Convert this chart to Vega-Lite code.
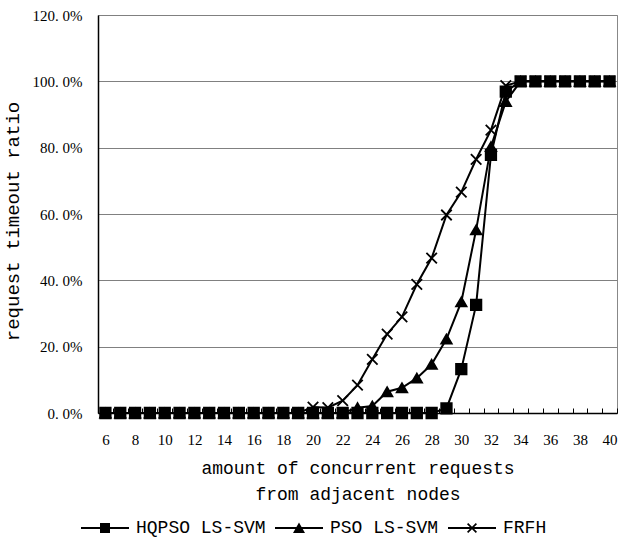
{
  "$schema": "https://vega.github.io/schema/vega-lite/v6.json",
  "autosize": "none",
  "width": 519,
  "height": 398,
  "padding": {"left": 98, "top": 15, "right": 1, "bottom": 126},
  "background": "white",
  "config": {"view": {"stroke": "#888888", "strokeWidth": 1}},
  "data": {"values": [
    {"x":6,"s":"HQPSO LS-SVM","v":0},{"x":7,"s":"HQPSO LS-SVM","v":0},{"x":8,"s":"HQPSO LS-SVM","v":0},{"x":9,"s":"HQPSO LS-SVM","v":0},{"x":10,"s":"HQPSO LS-SVM","v":0},{"x":11,"s":"HQPSO LS-SVM","v":0},{"x":12,"s":"HQPSO LS-SVM","v":0},{"x":13,"s":"HQPSO LS-SVM","v":0},{"x":14,"s":"HQPSO LS-SVM","v":0},{"x":15,"s":"HQPSO LS-SVM","v":0},{"x":16,"s":"HQPSO LS-SVM","v":0},{"x":17,"s":"HQPSO LS-SVM","v":0},{"x":18,"s":"HQPSO LS-SVM","v":0},{"x":19,"s":"HQPSO LS-SVM","v":0},{"x":20,"s":"HQPSO LS-SVM","v":0},{"x":21,"s":"HQPSO LS-SVM","v":0},{"x":22,"s":"HQPSO LS-SVM","v":0},{"x":23,"s":"HQPSO LS-SVM","v":0},{"x":24,"s":"HQPSO LS-SVM","v":0},{"x":25,"s":"HQPSO LS-SVM","v":0},{"x":26,"s":"HQPSO LS-SVM","v":0},{"x":27,"s":"HQPSO LS-SVM","v":0},{"x":28,"s":"HQPSO LS-SVM","v":0},{"x":29,"s":"HQPSO LS-SVM","v":1.4},{"x":30,"s":"HQPSO LS-SVM","v":13.2},{"x":31,"s":"HQPSO LS-SVM","v":32.6},{"x":32,"s":"HQPSO LS-SVM","v":77.8},{"x":33,"s":"HQPSO LS-SVM","v":96.9},{"x":34,"s":"HQPSO LS-SVM","v":100},{"x":35,"s":"HQPSO LS-SVM","v":100},{"x":36,"s":"HQPSO LS-SVM","v":100},{"x":37,"s":"HQPSO LS-SVM","v":100},{"x":38,"s":"HQPSO LS-SVM","v":100},{"x":39,"s":"HQPSO LS-SVM","v":100},{"x":40,"s":"HQPSO LS-SVM","v":100},
    {"x":6,"s":"PSO LS-SVM","v":0},{"x":7,"s":"PSO LS-SVM","v":0},{"x":8,"s":"PSO LS-SVM","v":0},{"x":9,"s":"PSO LS-SVM","v":0},{"x":10,"s":"PSO LS-SVM","v":0},{"x":11,"s":"PSO LS-SVM","v":0},{"x":12,"s":"PSO LS-SVM","v":0},{"x":13,"s":"PSO LS-SVM","v":0},{"x":14,"s":"PSO LS-SVM","v":0},{"x":15,"s":"PSO LS-SVM","v":0},{"x":16,"s":"PSO LS-SVM","v":0},{"x":17,"s":"PSO LS-SVM","v":0},{"x":18,"s":"PSO LS-SVM","v":0},{"x":19,"s":"PSO LS-SVM","v":0},{"x":20,"s":"PSO LS-SVM","v":0},{"x":21,"s":"PSO LS-SVM","v":0},{"x":22,"s":"PSO LS-SVM","v":0},{"x":23,"s":"PSO LS-SVM","v":1.6},{"x":24,"s":"PSO LS-SVM","v":2.1},{"x":25,"s":"PSO LS-SVM","v":6.4},{"x":26,"s":"PSO LS-SVM","v":7.6},{"x":27,"s":"PSO LS-SVM","v":10.5},{"x":28,"s":"PSO LS-SVM","v":14.7},{"x":29,"s":"PSO LS-SVM","v":22.3},{"x":30,"s":"PSO LS-SVM","v":33.5},{"x":31,"s":"PSO LS-SVM","v":55.2},{"x":32,"s":"PSO LS-SVM","v":80.3},{"x":33,"s":"PSO LS-SVM","v":93.9},{"x":34,"s":"PSO LS-SVM","v":100},{"x":35,"s":"PSO LS-SVM","v":100},{"x":36,"s":"PSO LS-SVM","v":100},{"x":37,"s":"PSO LS-SVM","v":100},{"x":38,"s":"PSO LS-SVM","v":100},{"x":39,"s":"PSO LS-SVM","v":100},{"x":40,"s":"PSO LS-SVM","v":100},
    {"x":6,"s":"FRFH","v":0},{"x":7,"s":"FRFH","v":0},{"x":8,"s":"FRFH","v":0},{"x":9,"s":"FRFH","v":0},{"x":10,"s":"FRFH","v":0},{"x":11,"s":"FRFH","v":0},{"x":12,"s":"FRFH","v":0},{"x":13,"s":"FRFH","v":0},{"x":14,"s":"FRFH","v":0},{"x":15,"s":"FRFH","v":0},{"x":16,"s":"FRFH","v":0},{"x":17,"s":"FRFH","v":0},{"x":18,"s":"FRFH","v":0},{"x":19,"s":"FRFH","v":0},{"x":20,"s":"FRFH","v":1.8},{"x":21,"s":"FRFH","v":1.6},{"x":22,"s":"FRFH","v":3.7},{"x":23,"s":"FRFH","v":8.4},{"x":24,"s":"FRFH","v":16.2},{"x":25,"s":"FRFH","v":23.8},{"x":26,"s":"FRFH","v":29},{"x":27,"s":"FRFH","v":38.8},{"x":28,"s":"FRFH","v":46.7},{"x":29,"s":"FRFH","v":59.7},{"x":30,"s":"FRFH","v":66.6},{"x":31,"s":"FRFH","v":76.5},{"x":32,"s":"FRFH","v":85.3},{"x":33,"s":"FRFH","v":98.7},{"x":34,"s":"FRFH","v":100},{"x":35,"s":"FRFH","v":100},{"x":36,"s":"FRFH","v":100},{"x":37,"s":"FRFH","v":100},{"x":38,"s":"FRFH","v":100},{"x":39,"s":"FRFH","v":100},{"x":40,"s":"FRFH","v":100}
  ]},
  "encoding": {
    "x": {
      "field": "x", "type": "ordinal",
      "scale": {"type": "band", "paddingInner": 0, "paddingOuter": 0},
      "axis": {
        "title": ["amount of concurrent requests", "from adjacent nodes"],
        "titleFont": "Liberation Mono", "titleFontSize": 18, "titleFontWeight": "normal",
        "titleColor": "black", "titleLineHeight": 26, "titleBaseline": "top", "titleY": 46,
        "labelFont": "Liberation Serif", "labelFontSize": 15, "labelColor": "black",
        "labelAngle": 0, "labelExpr": "datum.value % 2 == 0 ? datum.label : ''",
        "labelPadding": 24, "labelOverlap": false,
        "tickBand": "extent", "tickSize": -5, "tickColor": "black", "tickWidth": 1,
        "domainColor": "black", "domainWidth": 1.5, "grid": false
      }
    },
    "y": {
      "field": "v", "type": "quantitative",
      "scale": {"domain": [0, 120], "nice": false},
      "axis": {
        "values": [0, 20, 40, 60, 80, 100, 120],
        "labelExpr": "replace(format(datum.value, '.1f'), '.', '. ') + '%'",
        "labelFont": "Liberation Serif", "labelFontSize": 15, "labelColor": "black", "labelPadding": 16,
        "ticks": false, "domainColor": "black", "domainWidth": 1.5,
        "grid": true, "gridColor": "#808080", "gridWidth": 1,
        "title": "request timeout ratio", "titleFont": "Liberation Mono", "titleFontSize": 19,
        "titleFontWeight": "normal", "titleColor": "black", "titleX": -76, "titleY": 206
      }
    }
  },
  "layer": [
    {
      "mark": {"type": "line", "color": "black", "strokeWidth": 2},
      "encoding": {"detail": {"field": "s"}}
    },
    {
      "mark": {"type": "point", "filled": true, "color": "black", "stroke": "black", "strokeWidth": 1.8, "opacity": 1, "size": 110},
      "encoding": {
        "shape": {
          "field": "s", "type": "nominal",
          "scale": {"domain": ["HQPSO LS-SVM", "PSO LS-SVM", "FRFH"], "range": ["square", "triangle-up", "M-1,-1L1,1M-1,1L1,-1"]},
          "legend": null
        }
      }
    },
    {
      "transform": [{"filter": "false"}],
      "mark": {"type": "point", "filled": true, "color": "black", "opacity": 1, "size": 400},
      "encoding": {
        "shape": {
          "field": "s", "type": "nominal",
          "scale": {"domain": ["HQPSO LS-SVM", "PSO LS-SVM", "FRFH"], "range": [
            "M-2.4,-0.1H2.4V0.1H-2.4ZM-0.5,-0.5H0.5V0.5H-0.5Z",
            "M-2.4,-0.1H2.4V0.1H-2.4ZM0,-0.55L0.6,0.5H-0.6Z",
            "M-2.4,-0.1H2.4V0.1H-2.4ZM-0.38,-0.5L0.5,0.38L0.38,0.5L-0.5,-0.38ZM0.38,-0.5L0.5,-0.38L-0.38,0.5L-0.5,0.38Z"
          ]},
          "legend": {
            "orient": "none", "direction": "horizontal", "legendX": -4, "legendY": 502,
            "title": null, "padding": 0, "symbolSize": 400, "labelOffset": 20, "columnPadding": 6,
            "symbolFillColor": "black",
            "labelFont": "Liberation Mono", "labelFontSize": 18, "labelColor": "black"
          }
        }
      }
    }
  ],
  "resolve": {"scale": {"shape": "independent"}}
}
